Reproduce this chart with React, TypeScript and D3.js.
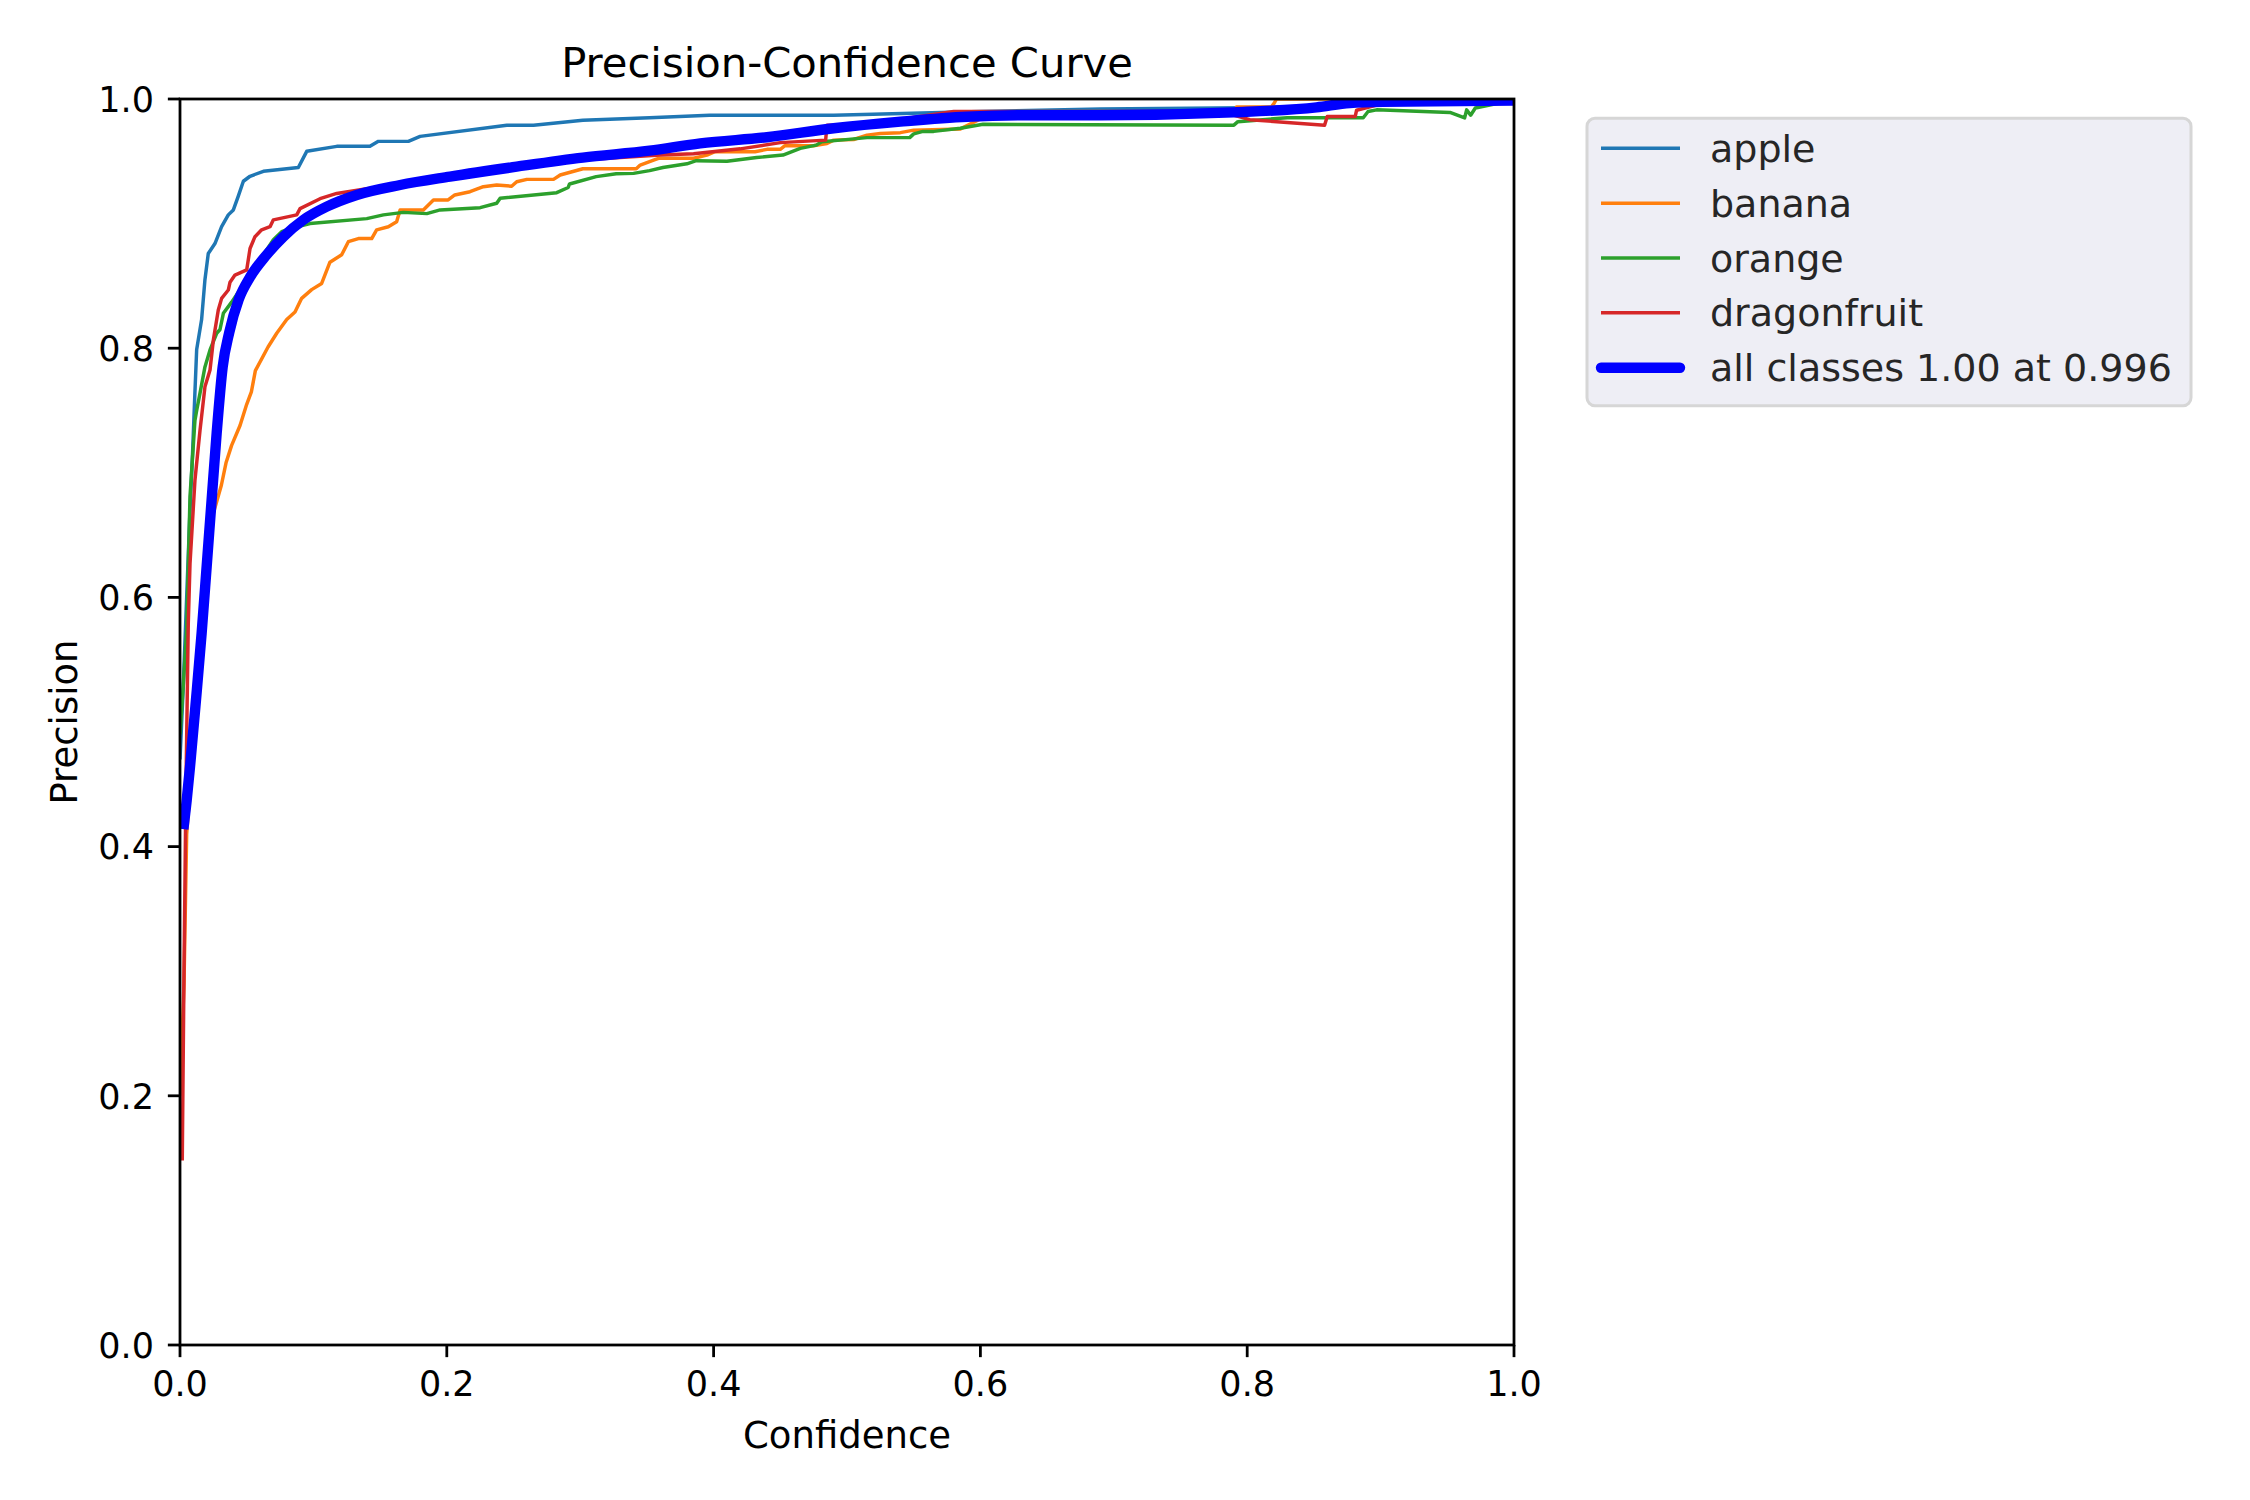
import React from "react";
import * as d3 from "d3";

const classNames = ["apple", "banana", "orange", "dragonfruit"];
const classColors = ["#1f77b4", "#ff7f0e", "#2ca02c", "#d62728"];
const allLabel = "all classes 1.00 at 0.996";
const tickValues = [0, 0.2, 0.4, 0.6, 0.8, 1.0];

// [confidence, precision]
const applePts: [number, number][] = [
  [0, 0.47], [0.0025, 0.53], [0.005, 0.6], [0.0075, 0.67], [0.0095, 0.718], [0.0112, 0.765], [0.0125, 0.799],
  [0.0162, 0.823], [0.0187, 0.855], [0.0212, 0.876], [0.0262, 0.884], [0.0312, 0.8975], [0.0362, 0.907],
  [0.04, 0.911], [0.0437, 0.922], [0.0475, 0.934], [0.0525, 0.938], [0.0625, 0.942], [0.0887, 0.945],
  [0.095, 0.958], [0.1175, 0.962], [0.1424, 0.962], [0.1487, 0.966], [0.1712, 0.966], [0.18, 0.97],
  [0.245, 0.979], [0.265, 0.979], [0.302, 0.983], [0.352, 0.985], [0.397, 0.987], [0.49, 0.987],
  [0.6, 0.99], [0.69, 0.992], [0.8, 0.993], [0.88, 0.995], [0.9, 0.998], [1.0, 1.0],
];

const bananaPts: [number, number][] = [
  [0, 0.2], [0.003, 0.29], [0.005, 0.41], [0.0085, 0.46], [0.013, 0.515], [0.017, 0.565], [0.021, 0.62],
  [0.0235, 0.662], [0.027, 0.675], [0.031, 0.69], [0.0345, 0.708], [0.0387, 0.722], [0.045, 0.738],
  [0.05, 0.755], [0.0535, 0.765], [0.0565, 0.782], [0.066, 0.801], [0.0725, 0.812], [0.08, 0.823],
  [0.0862, 0.829], [0.0912, 0.84], [0.0987, 0.847],
  [0.1062, 0.852], [0.1124, 0.869], [0.1212, 0.875], [0.1262, 0.8855], [0.1337, 0.888], [0.1437, 0.888],
  [0.1474, 0.895], [0.1562, 0.8975], [0.1624, 0.9015], [0.165, 0.911], [0.1824, 0.911], [0.19, 0.919],
  [0.201, 0.919], [0.206, 0.923], [0.2174, 0.9256], [0.2274, 0.9296], [0.2374, 0.931], [0.2486, 0.93],
  [0.2524, 0.9336], [0.26, 0.9355], [0.28, 0.9355], [0.285, 0.939], [0.302, 0.944], [0.342, 0.944],
  [0.345, 0.947], [0.355, 0.951], [0.3587, 0.9524], [0.385, 0.9524], [0.395, 0.955], [0.401, 0.9577],
  [0.431, 0.9577], [0.44, 0.9596], [0.45, 0.9596], [0.4535, 0.9625], [0.4748, 0.9625], [0.485, 0.9643],
  [0.49, 0.967], [0.505, 0.9675], [0.515, 0.971], [0.525, 0.9723], [0.54, 0.973], [0.55, 0.975],
  [0.585, 0.976], [0.6, 0.984], [0.65, 0.988], [0.7, 0.989], [0.741, 0.99], [0.791, 0.99], [0.792, 0.9936],
  [0.818, 0.9936], [0.82, 0.9963], [0.822, 1.0], [1.0, 1.0],
];

const orangePts: [number, number][] = [
  [0, 0.49], [0.0025, 0.53], [0.005, 0.574], [0.0075, 0.681], [0.0112, 0.742], [0.0125, 0.75], [0.015, 0.764],
  [0.0187, 0.785], [0.0225, 0.7986], [0.0275, 0.812], [0.03, 0.815], [0.0325, 0.828], [0.0387, 0.837],
  [0.05, 0.855], [0.06, 0.871], [0.07, 0.887], [0.0762, 0.8935], [0.0825, 0.896], [0.0975, 0.9],
  [0.14, 0.904], [0.1525, 0.907], [0.1674, 0.909], [0.185, 0.908], [0.195, 0.911], [0.225, 0.9128],
  [0.2374, 0.9163], [0.24, 0.9203], [0.2824, 0.9248], [0.291, 0.929], [0.292, 0.9318], [0.312, 0.9377],
  [0.327, 0.94], [0.34, 0.9403], [0.352, 0.9425], [0.362, 0.945], [0.38, 0.948], [0.387, 0.9505],
  [0.41, 0.95], [0.4323, 0.953], [0.452, 0.955], [0.465, 0.9604], [0.477, 0.963], [0.481, 0.9657],
  [0.495, 0.967], [0.515, 0.969], [0.547, 0.969], [0.55, 0.972], [0.557, 0.974], [0.565, 0.974],
  [0.585, 0.9765], [0.602, 0.9797], [0.79, 0.979], [0.793, 0.9818], [0.807, 0.983], [0.83, 0.985],
  [0.887, 0.985], [0.8906, 0.99], [0.897, 0.9913], [0.952, 0.9892], [0.963, 0.9848], [0.9645, 0.9913],
  [0.9675, 0.987], [0.971, 0.9928], [0.99, 0.997], [1.0, 1.0],
];

const dragonPts: [number, number][] = [
  [0.0017, 0.148], [0.003, 0.3], [0.0045, 0.45], [0.0062, 0.579], [0.0075, 0.627], [0.0112, 0.694], [0.015, 0.734],
  [0.0187, 0.769], [0.0225, 0.7825], [0.025, 0.8066], [0.0287, 0.8307], [0.0312, 0.84], [0.0362, 0.8467],
  [0.0375, 0.853], [0.0412, 0.8587], [0.05, 0.8628], [0.0525, 0.88], [0.0562, 0.8895], [0.0612, 0.895],
  [0.0675, 0.8975], [0.07, 0.903], [0.0875, 0.907], [0.09, 0.912], [0.105, 0.92], [0.1175, 0.9242],
  [0.14, 0.928], [0.1524, 0.929], [0.2, 0.936], [0.25, 0.944], [0.3, 0.951], [0.36, 0.955], [0.385, 0.956],
  [0.42, 0.96], [0.45, 0.965], [0.484, 0.967], [0.485, 0.979], [0.51, 0.979], [0.58, 0.99], [0.65, 0.99],
  [0.78, 0.99], [0.802, 0.9834], [0.858, 0.979], [0.86, 0.986], [0.881, 0.986], [0.882, 0.991],
  [0.9, 0.996], [1.0, 1.0],
];

const allPts: [number, number][] = [
  [0.0025, 0.414], [0.005, 0.437], [0.0075, 0.464], [0.012, 0.518], [0.0162, 0.571], [0.02, 0.625],
  [0.0237, 0.678], [0.0275, 0.732], [0.032, 0.785], [0.037, 0.813], [0.044, 0.839], [0.0525, 0.857],
  [0.065, 0.875], [0.0775, 0.8895], [0.0925, 0.903], [0.11, 0.9136], [0.1325, 0.923], [0.165, 0.931],
  [0.2024, 0.9377], [0.2524, 0.9457], [0.302, 0.953], [0.352, 0.9585], [0.39, 0.9644], [0.44, 0.9693],
  [0.49, 0.9765], [0.54, 0.9818], [0.59, 0.9858], [0.64, 0.987], [0.69, 0.987], [0.79, 0.9893],
  [0.852, 0.9933], [0.877, 0.9968], [0.902, 0.9978], [1.0, 0.9987],
];

const classSeries = [applePts, bananaPts, orangePts, dragonPts];

export default function App() {
  React.useEffect(() => {
    document.body.style.margin = "0";
  }, []);

  const W = 2250, H = 1500;
  const L = 180, R = 1514, T = 99, B = 1345;
  const x = d3.scaleLinear().domain([0, 1]).range([L, R]);
  const y = d3.scaleLinear().domain([0, 1]).range([B, T]);
  const line = d3.line<[number, number]>().x((d) => x(d[0])).y((d) => y(d[1]));
  const smooth = d3.line<[number, number]>().x((d) => x(d[0])).y((d) => y(d[1])).curve(d3.curveMonotoneX);
  const fmt = d3.format(".1f");
  const font = "'DejaVu Sans', sans-serif";
  const lw = 3.47;
  const spine = 2.78;
  const tickLen = 12.15;

  const legX = 1587, legY = 118.3, legW = 604, legH = 287.4;
  const rowY0 = 148.3, rowStep = 54.85;
  const hx0 = 1601, hx1 = 1680, tx = 1710;
  const legendItems = [
    ...classNames.map((n, i) => ({ label: n, color: classColors[i], width: lw })),
    { label: allLabel, color: "#0000ff", width: 10.4 },
  ];

  return (
    <svg width={W} height={H} style={{ display: "block", background: "#fff" }} fontFamily={font}>
      <defs>
        <clipPath id="plotclip">
          <rect x={L} y={T} width={R - L} height={B - T} />
        </clipPath>
      </defs>
      <rect x={0} y={0} width={W} height={H} fill="#ffffff" />
      <g clipPath="url(#plotclip)">
        {classSeries.map((s, i) => (
          <path key={classNames[i]} d={line(s) || ""} fill="none" stroke={classColors[i]} strokeWidth={lw} strokeLinejoin="round" />
        ))}
        <path d={smooth(allPts) || ""} fill="none" stroke="#0000ff" strokeWidth={10.4} strokeLinejoin="round" strokeLinecap="butt" />
      </g>
      <rect x={L} y={T} width={R - L} height={B - T} fill="none" stroke="#000" strokeWidth={spine} />
      {tickValues.map((t) => (
        <g key={"x" + t}>
          <line x1={x(t)} x2={x(t)} y1={B} y2={B + tickLen} stroke="#000" strokeWidth={spine} />
          <text x={x(t)} y={1396} textAnchor="middle" fontSize={35} fill="#000">{fmt(t)}</text>
        </g>
      ))}
      {tickValues.map((t) => (
        <g key={"y" + t}>
          <line x1={L - tickLen} x2={L} y1={y(t)} y2={y(t)} stroke="#000" strokeWidth={spine} />
          <text x={154} y={y(t) + 12.8} textAnchor="end" fontSize={35} fill="#000">{fmt(t)}</text>
        </g>
      ))}
      <text x={(L + R) / 2} y={1448} textAnchor="middle" fontSize={37} fill="#000">Confidence</text>
      <text transform={`translate(77, ${(T + B) / 2}) rotate(-90)`} textAnchor="middle" fontSize={37} fill="#000">Precision</text>
      <text x={(L + R) / 2} y={77} textAnchor="middle" fontSize={41.7} fill="#000">Precision-Confidence Curve</text>
      <rect x={legX} y={legY} width={legW} height={legH} rx={8} ry={8} fill="#eeeef5" stroke="#d6d6d6" strokeWidth={3} />
      {legendItems.map((it, i) => {
        const cy = rowY0 + i * rowStep;
        return (
          <g key={it.label}>
            <line x1={hx0} x2={hx1} y1={cy} y2={cy} stroke={it.color} strokeWidth={it.width} strokeLinecap={it.width > 5 ? "round" : "butt"} />
            <text x={tx} y={cy + 13.5} fontSize={38} fill="#262626">{it.label}</text>
          </g>
        );
      })}
    </svg>
  );
}
